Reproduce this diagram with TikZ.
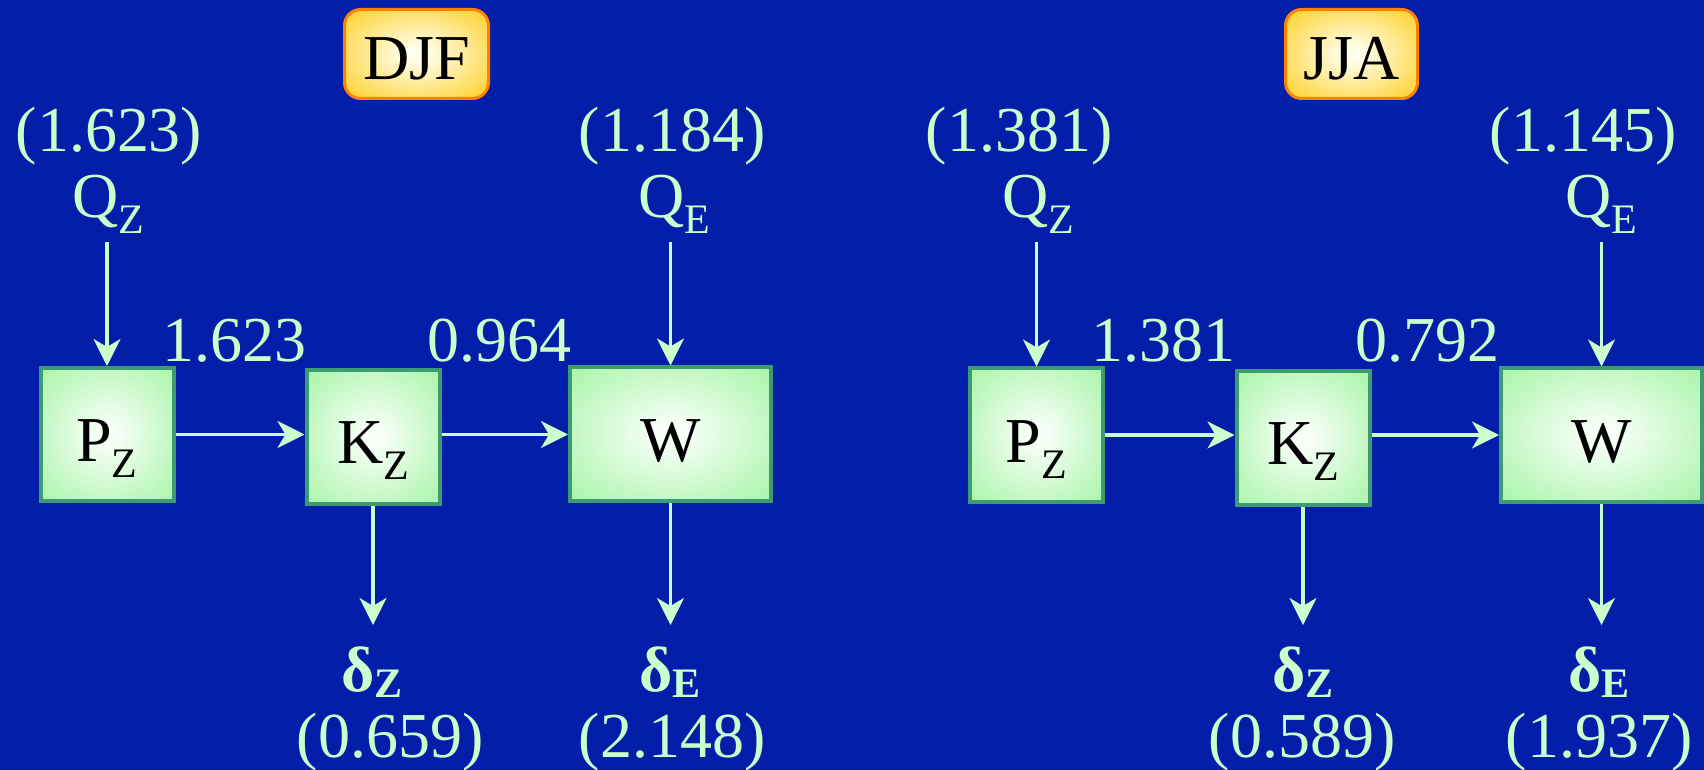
\documentclass[tikz,border=0pt]{standalone}
\usepackage{fontspec}
\setmainfont{Liberation Serif}
\usetikzlibrary{arrows.meta}
\definecolor{bg}{RGB}{3,30,168}
\definecolor{txt}{RGB}{204,255,204}
\definecolor{gedge}{RGB}{172,245,172}
\definecolor{gcenter}{RGB}{248,255,248}
\definecolor{gborder}{RGB}{60,155,115}
\definecolor{yedge}{RGB}{255,203,20}
\definecolor{ycenter}{RGB}{255,255,238}
\definecolor{yborder}{RGB}{255,128,0}
\pgfdeclareradialshading{greenshade}{\pgfpoint{0bp}{0bp}}{color(0bp)=(gcenter); color(3bp)=(gcenter); color(34bp)=(gedge); color(75bp)=(gedge)}
\pgfdeclareradialshading{yellowshade}{\pgfpoint{0bp}{0bp}}{color(0bp)=(ycenter); color(3bp)=(ycenter); color(38bp)=(yedge); color(75bp)=(yedge)}
\newcommand\lsub[1]{\raisebox{-8pt}{\fontsize{21}{21}\selectfont #1}}
\newcommand\bsub[1]{\raisebox{-3pt}{\fontsize{21}{21}\selectfont\bfseries #1}}
\begin{document}
\begin{tikzpicture}[x=0.5pt,y=-0.5pt,
  every node/.style={font=\fontsize{32}{38}\selectfont, text=txt, inner sep=0pt},
  lbl/.style={anchor=base},
  boldlbl/.style={anchor=base, font=\fontsize{32}{38}\selectfont\bfseries},
  blockbox/.style={draw=gborder, line width=2pt, shade, shading=greenshade, text=black,
    minimum width=66.5pt, minimum height=66.5pt, text height=27pt, text depth=0pt},
  widebox/.style={blockbox, minimum width=100.5pt},
  season/.style={draw=yborder, line width=1.5pt, rounded corners=8pt, shade, shading=yellowshade,
    text=black, minimum height=44.5pt, text height=26pt, text depth=0pt},
  flow/.style={draw=txt, line width=1.6pt, -{Stealth[length=13.5pt,width=13.5pt,inset=4pt]}}
]
\fill[bg] (0,0) rectangle (1704,770);
\useasboundingbox (0,0) rectangle (1704,770);

% ---------- DJF ----------
\node[season, minimum width=72pt] (djf) at (416.5,54) {DJF};
\node[lbl] (qzin1) at (109,152) {(1.623)};
\node[lbl] (qz1) at (108,218) {Q\lsub{Z}};
\node[lbl] (v1a) at (234,362) {1.623};
\node[lbl] (v1b) at (499,362) {0.964};
\node[lbl] (qein1) at (672,152) {(1.184)};
\node[lbl] (qe1) at (674,218) {Q\lsub{E}};
\node[blockbox] (pz1) at (107,434.5) {P\lsub{Z}};
\node[blockbox] (kz1) at (373,437) {K\lsub{Z}};
\node[widebox] (w1) at (670.5,434) {W};
\node[boldlbl] (dz1) at (372,691) {δ\bsub{Z}};
\node[lbl] (dzv1) at (390,757) {(0.659)};
\node[boldlbl] (de1) at (670,691) {δ\bsub{E}};
\node[lbl] (dev1) at (672,757) {(2.148)};

\coordinate (a1) at (107,242);
\coordinate (a2) at (670.5,242);
\coordinate (b1) at (373,625);
\coordinate (b2) at (670.5,625);
\draw[flow] (a1) -- (a1 |- pz1.north);
\draw[flow] (a2) -- (a2 |- w1.north);
\draw[flow] (pz1.east) -- (pz1.east -| kz1.west);
\draw[flow] (pz1.east -| kz1.east) -- (pz1.east -| w1.west);
\draw[flow] (kz1.south) -- (b1);
\draw[flow] (w1.south) -- (b2);

% ---------- JJA ----------
\node[season, minimum width=66pt] (jja) at (1351.5,54) {JJA};
\node[lbl] (qzin2) at (1019,152) {(1.381)};
\node[lbl] (qz2) at (1038,218) {Q\lsub{Z}};
\node[lbl] (v2a) at (1163,362) {1.381};
\node[lbl] (v2b) at (1427,362) {0.792};
\node[lbl] (qein2) at (1583,152) {(1.145)};
\node[lbl] (qe2) at (1601,218) {Q\lsub{E}};
\node[blockbox] (pz2) at (1036.5,435) {P\lsub{Z}};
\node[blockbox] (kz2) at (1303,438) {K\lsub{Z}};
\node[widebox] (w2) at (1601.5,435) {W};
\node[boldlbl] (dz2) at (1303,691) {δ\bsub{Z}};
\node[lbl] (dzv2) at (1302,757) {(0.589)};
\node[boldlbl] (de2) at (1599,691) {δ\bsub{E}};
\node[lbl] (dev2) at (1599,757) {(1.937)};

\coordinate (a3) at (1036.5,242);
\coordinate (a4) at (1601.5,242);
\coordinate (b3) at (1303,625);
\coordinate (b4) at (1601.5,625);
\draw[flow] (a3) -- (a3 |- pz2.north);
\draw[flow] (a4) -- (a4 |- w2.north);
\draw[flow] (pz2.east) -- (pz2.east -| kz2.west);
\draw[flow] (pz2.east -| kz2.east) -- (pz2.east -| w2.west);
\draw[flow] (kz2.south) -- (b3);
\draw[flow] (w2.south) -- (b4);
\end{tikzpicture}
\end{document}
